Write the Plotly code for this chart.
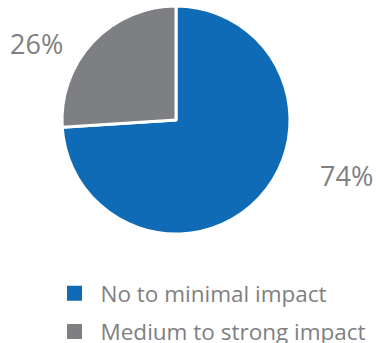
import plotly.graph_objects as go

categories = ["No to minimal impact", "Medium to strong impact"]
values = [74, 26]
pct_labels = ["74%", "26%"]
colors = ["#0F6BB5", "#7E7F83"]

W, H = 376, 343
cx, cy, r = 176, 120, 114

fig = go.Figure()
fig.add_trace(go.Pie(
    labels=categories,
    values=values,
    sort=False,
    direction="clockwise",
    rotation=0,
    marker=dict(colors=colors, line=dict(color="white", width=3)),
    textinfo="none",
    hoverinfo="label+percent",
    showlegend=False,
    domain=dict(x=[(cx - r) / W, (cx + r) / W], y=[(H - cy - r) / H, (H - cy + r) / H]),
))

# legend entries (square swatches)
for name, col in zip(categories, colors):
    fig.add_trace(go.Scatter(
        x=[None], y=[None], mode="markers", name=name, legendgroup=name,
        marker=dict(symbol="square", size=15, color=col),
        hoverinfo="skip",
    ))

label_pos = [(346, 175), (36, 43)]
for txt, (px, py) in zip(pct_labels, label_pos):
    fig.add_annotation(x=px / W, y=1 - py / H, xref="paper", yref="paper", text=txt,
                       xanchor="center", yanchor="middle", showarrow=False,
                       font=dict(size=27, color="#808080", family="Open Sans"))

fig.update_layout(
    width=W, height=H,
    margin=dict(l=0, r=0, t=0, b=0, autoexpand=False),
    paper_bgcolor="white",
    plot_bgcolor="white",
    xaxis=dict(visible=False),
    yaxis=dict(visible=False),
    showlegend=True,
    legend=dict(
        x=48.5 / W, y=1 - 272 / H, xanchor="left", yanchor="top",
        font=dict(size=22.5, color="#808080", family="Open Sans"),
        tracegroupgap=6,
        itemwidth=42,
        bgcolor="rgba(0,0,0,0)",
    ),
)

fig.write_html(
    "out.html",
    config={"displayModeBar": False},
    post_script="document.body.style.margin='0';document.body.style.overflow='hidden';",
)
